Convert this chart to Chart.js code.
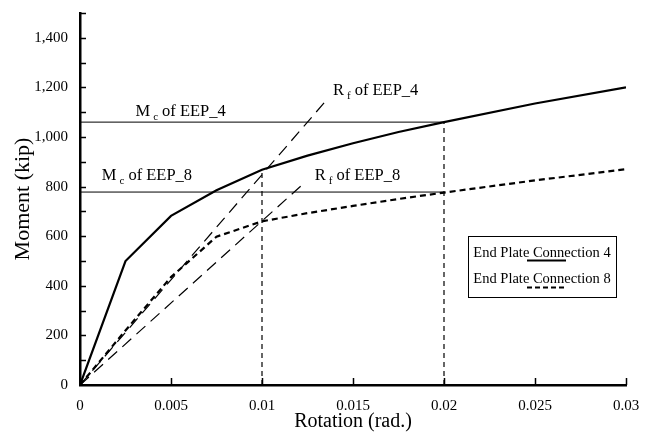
<!DOCTYPE html>
<html>
<head>
<meta charset="utf-8">
<script src="https://cdn.jsdelivr.net/npm/chart.js@4.4.1/dist/chart.umd.min.js"></script>
<style>
  html, body { margin: 0; padding: 0; background: #fff; }
  #wrap { width: 647px; height: 434px; }
</style>
</head>
<body>
<div id="wrap"><canvas id="grafico" width="647" height="434"></canvas></div>
<script>
// Datos
const rotacion = [0, 0.0025, 0.005, 0.0075, 0.01, 0.0125, 0.015, 0.0175, 0.02, 0.025, 0.03];
const momentoEEP4 = [0, 500, 682, 785, 868, 925, 975, 1020, 1060, 1135, 1200];
const momentoEEP8 = [0, 220, 435, 598, 660, 693, 722, 750, 776, 825, 870];

// Rectas de rigidez inicial (R_f)
const rotRf4 = [0, 0.0135];
const momRf4 = [0, 1145];
const rotRf8 = [0, 0.0124];
const momRf8 = [0, 820];

// Momentos caracteristicos (M_c) y sus rotaciones
const mc4 = 1060;
const mc8 = 778;
const rotMc8 = 0.01;
const momVert8 = 868;
const rotMc4 = 0.02;

const etiquetasY = [0, 200, 400, 600, 800, 1000, 1200, 1400];
const etiquetasX = [0, 0.005, 0.01, 0.015, 0.02, 0.025, 0.03];
const nombresSerie = ['End Plate Connection 4', 'End Plate Connection 8'];

const fuente = "'Liberation Serif', 'DejaVu Serif', serif";

function puntos(xs, ys) {
    return xs.map((x, i) => ({ x: x, y: ys[i] }));
}

// Ticks hacia adentro y textos del grafico
const pluginDibujo = {
    id: 'dibujo',
    afterDatasetsDraw(chart) {
        const ctx = chart.ctx;
        const sx = chart.scales.x;
        const sy = chart.scales.y;
        const area = chart.chartArea;
        ctx.save();
        ctx.strokeStyle = '#000';
        ctx.lineWidth = 1.5;
        // ticks del eje y cada 100
        for (let v = 100; v <= 1500; v += 100) {
            const py = Math.round(sy.getPixelForValue(v)) + 0.5;
            ctx.beginPath();
            ctx.moveTo(area.left, py);
            ctx.lineTo(area.left + 6, py);
            ctx.stroke();
        }
        // ticks del eje x
        etiquetasX.slice(1).forEach(v => {
            const px = Math.round(sx.getPixelForValue(v)) + 0.5;
            ctx.beginPath();
            ctx.moveTo(px, area.bottom);
            ctx.lineTo(px, area.bottom - 7);
            ctx.stroke();
        });

        // etiquetas con subindice
        function etiqueta(letra, sub, resto, vx, vy) {
            const px = sx.getPixelForValue(vx);
            const py = sy.getPixelForValue(vy);
            ctx.fillStyle = '#000';
            ctx.textBaseline = 'alphabetic';
            ctx.textAlign = 'left';
            ctx.font = '16.5px ' + fuente;
            ctx.fillText(letra, px, py);
            let w = ctx.measureText(letra).width + 3;
            ctx.font = '11px ' + fuente;
            ctx.fillText(sub, px + w, py + 4);
            w += ctx.measureText(sub).width + 4;
            ctx.font = '16.5px ' + fuente;
            ctx.fillText(resto, px + w, py);
        }
        etiqueta('M', 'c', 'of EEP_4', 0.00305, 1084);
        etiqueta('M', 'c', 'of EEP_8', 0.0012, 826);
        etiqueta('R', 'f', 'of EEP_4', 0.0139, 1170);
        etiqueta('R', 'f', 'of EEP_8', 0.0129, 826);

        // leyenda
        const lx = 468, ly = 236, lw = 148, lh = 61;
        ctx.lineWidth = 1;
        ctx.setLineDash([]);
        ctx.strokeRect(lx + 0.5, ly + 0.5, lw, lh);
        ctx.font = '14.5px ' + fuente;
        ctx.textAlign = 'center';
        ctx.fillText(nombresSerie[0], lx + lw / 2, ly + 21);
        ctx.fillText(nombresSerie[1], lx + lw / 2, ly + 47);
        ctx.lineWidth = 2;
        ctx.beginPath();
        ctx.moveTo(527, ly + 24.5);
        ctx.lineTo(566, ly + 24.5);
        ctx.stroke();
        ctx.setLineDash([5, 3]);
        ctx.beginPath();
        ctx.moveTo(527, ly + 51.5);
        ctx.lineTo(566, ly + 51.5);
        ctx.stroke();
        ctx.restore();
    }
};

const ctx = document.getElementById('grafico').getContext('2d');
new Chart(ctx, {
    type: 'scatter',
    data: {
        datasets: [
            {
                label: nombresSerie[0],
                data: puntos(rotacion, momentoEEP4),
                showLine: true,
                borderColor: '#000',
                borderWidth: 2.2,
                pointRadius: 0
            },
            {
                label: nombresSerie[1],
                data: puntos(rotacion, momentoEEP8),
                showLine: true,
                borderColor: '#000',
                borderWidth: 2.2,
                borderDash: [6, 4],
                pointRadius: 0
            },
            {
                label: 'Rf EEP_4',
                data: puntos(rotRf4, momRf4),
                showLine: true,
                borderColor: '#000',
                borderWidth: 1.2,
                borderDash: [12, 7],
                pointRadius: 0
            },
            {
                label: 'Rf EEP_8',
                data: puntos(rotRf8, momRf8),
                showLine: true,
                borderColor: '#000',
                borderWidth: 1.2,
                borderDash: [12, 7],
                pointRadius: 0
            },
            {
                label: 'Mc EEP_4',
                data: puntos([0, rotMc4], [mc4, mc4]),
                showLine: true,
                borderColor: '#000',
                borderWidth: 1,
                pointRadius: 0
            },
            {
                label: 'Mc EEP_8',
                data: puntos([0, rotMc4], [mc8, mc8]),
                showLine: true,
                borderColor: '#000',
                borderWidth: 1,
                pointRadius: 0
            },
            {
                label: 'v1',
                data: puntos([rotMc8, rotMc8], [0, momVert8]),
                showLine: true,
                borderColor: '#000',
                borderWidth: 1.2,
                borderDash: [5, 4],
                pointRadius: 0
            },
            {
                label: 'v2',
                data: puntos([rotMc4, rotMc4], [0, mc4]),
                showLine: true,
                borderColor: '#000',
                borderWidth: 1.2,
                borderDash: [5, 4],
                pointRadius: 0
            }
        ]
    },
    options: {
        responsive: false,
        animation: false,
        layout: { padding: { left: 0, right: 21, top: 10, bottom: 0 } },
        plugins: {
            legend: { display: false },
            tooltip: { enabled: false }
        },
        scales: {
            x: {
                type: 'linear',
                min: 0,
                max: 0.03,
                afterFit: s => { s.height = 49; },
                afterBuildTicks: s => { s.ticks = etiquetasX.map(v => ({ value: v })); },
                grid: { display: false },
                border: { color: '#000', width: 2.5 },
                ticks: {
                    color: '#000',
                    font: { family: fuente, size: 15 },
                    padding: 4,
                    maxRotation: 0,
                    callback: v => String(+v.toFixed(3))
                },
                title: {
                    display: true,
                    text: 'Rotation (rad.)',
                    color: '#000',
                    font: { family: fuente, size: 20 },
                    padding: { top: 0, bottom: 0 }
                }
            },
            y: {
                type: 'linear',
                min: 0,
                max: 1500,
                afterFit: s => { s.width = 80; },
                afterBuildTicks: s => { s.ticks = etiquetasY.map(v => ({ value: v })); },
                grid: { display: false },
                border: { color: '#000', width: 2.5 },
                ticks: {
                    color: '#000',
                    font: { family: fuente, size: 15 },
                    padding: 4,
                    callback: v => v.toLocaleString('en-US')
                },
                title: {
                    display: true,
                    text: 'Moment (kip)',
                    color: '#000',
                    font: { family: fuente, size: 22 },
                    padding: { top: 10, bottom: 0 }
                }
            }
        }
    },
    plugins: [pluginDibujo]
});
</script>
</body>
</html>
